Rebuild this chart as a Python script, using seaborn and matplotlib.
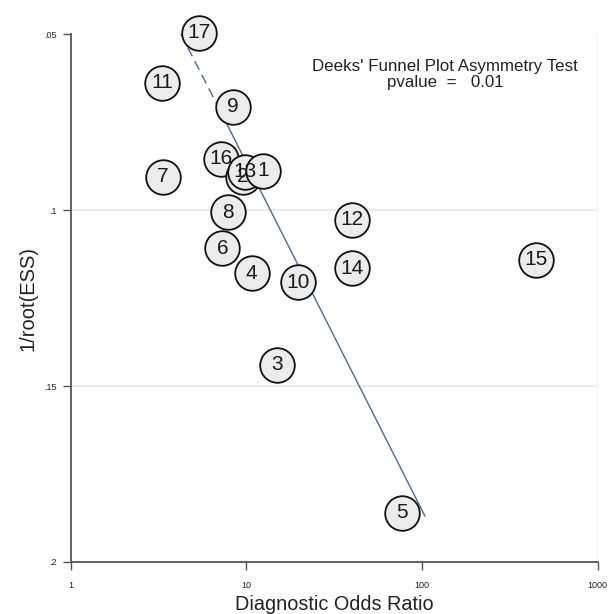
import numpy as np
import pandas as pd
import matplotlib
matplotlib.use("Agg")
import matplotlib.pyplot as plt
from matplotlib.ticker import FixedLocator, FixedFormatter
import seaborn as sns

# Study-level estimates: diagnostic odds ratio and 1/sqrt(effective sample size)
study = [17, 11, 9, 16, 7, 2, 13, 1, 8, 6, 4, 10, 12, 14, 15, 3, 5]
dor = [5.4, 3.3, 8.4, 7.2, 3.35, 9.55, 9.8, 12.4, 7.85, 7.3, 10.7, 19.6, 40.0, 40.0, 447.0, 14.9, 77.0]
inv_root_ess = [0.0497, 0.0639, 0.0707, 0.0855, 0.0906, 0.0906, 0.0892, 0.0889,
                0.1006, 0.1108, 0.1179, 0.1205, 0.1028, 0.1165, 0.1142, 0.1440, 0.1860]

# Fitted regression line (dashed where extrapolated above the data)
fit_dor = [4.24, 6.8, 104.0]
fit_y = [0.05, 0.07, 0.187]

x_ticks = [1, 10, 100, 1000]
x_tick_labels = ["1", "10", "100", "1000"]
y_ticks = [0.05, 0.1, 0.15, 0.2]
y_tick_labels = [".05", ".1", ".15", ".2"]

test_title = "Deeks' Funnel Plot Asymmetry Test"
test_pvalue = "pvalue  =   0.01"

sns.set_theme(style="white")
plt.rcParams["font.family"] = ["Liberation Sans", "DejaVu Sans"]

df = pd.DataFrame({"study": study, "dor": dor, "y": inv_root_ess})

fig = plt.figure(figsize=(6.11, 6.14), dpi=100)
ax = fig.add_axes([0.1157, 0.0847, 0.8625, 0.8599])

ax.set_xscale("log")
ax.set_xlim(1, 1000)
ax.set_ylim(0.2, 0.05)

# light reference lines
for yv in (0.1, 0.15):
    ax.axhline(yv, color="#e3eeee", lw=1.2, zorder=0)
ax.axvline(1000, color="#eef3f3", lw=1.5, zorder=0)

# regression line
ax.plot(fit_dor[:2], fit_y[:2], color="#4a6a92", lw=1.0, ls=(0, (7, 4)), zorder=1)
ax.plot(fit_dor[1:], fit_y[1:], color="#4a6a92", lw=1.0, zorder=1)

sns.scatterplot(data=df, x="dor", y="y", ax=ax, s=620, color="#ececec",
                edgecolor="#111111", linewidth=1.3, zorder=3, clip_on=False,
                legend=False)

for s, xv, yv in zip(df["study"], df["dor"], df["y"]):
    ax.text(xv, yv, str(s), ha="center", va="center", fontsize=15,
            color="#1a1a1a", zorder=4, clip_on=False)

ax.text(135, 0.0591, test_title, ha="center", va="center", fontsize=12.2, color="#222222")
ax.text(135, 0.0639, test_pvalue, ha="center", va="center", fontsize=12.2, color="#222222")

ax.xaxis.set_major_locator(FixedLocator(x_ticks))
ax.xaxis.set_major_formatter(FixedFormatter(x_tick_labels))
ax.xaxis.set_minor_locator(FixedLocator([]))
ax.yaxis.set_major_locator(FixedLocator(y_ticks))
ax.yaxis.set_major_formatter(FixedFormatter(y_tick_labels))

for side in ("top", "right"):
    ax.spines[side].set_visible(False)
for side in ("left", "bottom"):
    ax.spines[side].set_color("#555555")
    ax.spines[side].set_linewidth(1.3)

ax.tick_params(axis="both", which="major", direction="out", length=6, width=1.0,
               color="#555555", labelsize=6.5, labelcolor="#222222", pad=8,
               bottom=True, left=True)
ax.tick_params(axis="y", pad=4)

ax.set_xlabel("Diagnostic Odds Ratio", fontsize=14.3, color="#222222", labelpad=3)
ax.set_ylabel("1/root(ESS)", fontsize=14.5, color="#222222", labelpad=5)

fig.savefig("out.png", dpi=100)
